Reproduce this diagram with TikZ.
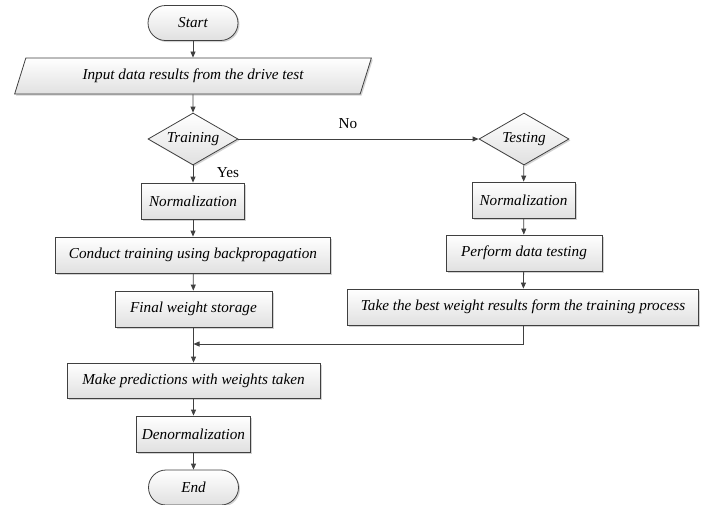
\documentclass[tikz,border=0pt]{standalone}
\usepackage{fontspec}
\setmainfont{Liberation Serif}
\usetikzlibrary{arrows.meta,shapes.geometric,shadows}
\definecolor{fLine}{gray}{0.25}
\definecolor{fShade}{gray}{0.88}
\tikzset{
    base/.style={draw=fLine, line width=0.8pt, top color=white, bottom color=fShade,
        drop shadow={shadow xshift=1.5pt, shadow yshift=-1.5pt, fill=black!35},
        font=\itshape\fontsize{15.2}{18}\selectfont, inner sep=0pt},
    proc/.style={base, rectangle, minimum height=36pt},
    term/.style={base, rectangle, rounded corners=17.5pt, minimum width=90pt, minimum height=35pt},
    dec/.style={base, diamond, aspect=1.73, minimum width=90pt, minimum height=52pt},
    io/.style={base, trapezium, trapezium left angle=62, trapezium right angle=118,
        trapezium stretches=true, minimum width=358pt, minimum height=36pt},
    arr/.style={draw=fLine, line width=0.8pt, -{Triangle[length=6pt,width=5pt]}},
    lbl/.style={font=\fontsize{15.2}{18}\selectfont, inner sep=0pt}
}

\begin{document}
\begin{tikzpicture}[x=1pt,y=-1pt]
\useasboundingbox (0,0) rectangle (704,504);
% left column
\node[term] (start) at (193,23) {Start};
\node[io] (input) at (193,76) {Input data results from the drive test};
\node[dec] (train) at (193,139) {Training};
\node[proc, minimum width=103pt] (normL) at (193,201) {Normalization};
\node[proc, minimum width=275pt] (conduct) at (193,255) {Conduct training using backpropagation};
\node[proc, minimum width=157pt] (store) at (193.5,309) {Final weight storage};
\node[proc, minimum width=253pt, minimum height=35pt] (pred) at (193.5,380.5) {Make predictions with weights taken};
\node[proc, minimum width=114pt] (denorm) at (193.5,434) {Denormalization};
\node[term] (finish) at (193.5,487.5) {End};
% right column
\node[dec] (test) at (524,139) {Testing};
\node[proc, minimum width=103pt] (normR) at (523.5,200) {Normalization};
\node[proc, minimum width=156pt] (perf) at (524,253) {Perform data testing};
\node[proc, minimum width=351pt] (take) at (523,307) {Take the best weight results form the training process};
\coordinate (merge) at (193.5,344);
% connectors
\draw[arr] (start) -- (input);
\draw[arr] (input) -- (train);
\draw[arr] (train) -- (normL);
\draw[arr] (normL) -- (conduct);
\draw[arr] (conduct) -- (store);
\draw[arr] (store) -- (pred);
\draw[arr] (pred) -- (denorm);
\draw[arr] (denorm) -- (finish);
\draw[arr] (train) -- (test);
\draw[arr] (test) -- (normR);
\draw[arr] (normR) -- (perf);
\draw[arr] (perf) -- (take);
\draw[arr] (take.south) |- (merge);
% labels
\node[lbl] (yes) at (228,173) {Yes};
\node[lbl] (no) at (348,124) {No};
\end{tikzpicture}
\end{document}
